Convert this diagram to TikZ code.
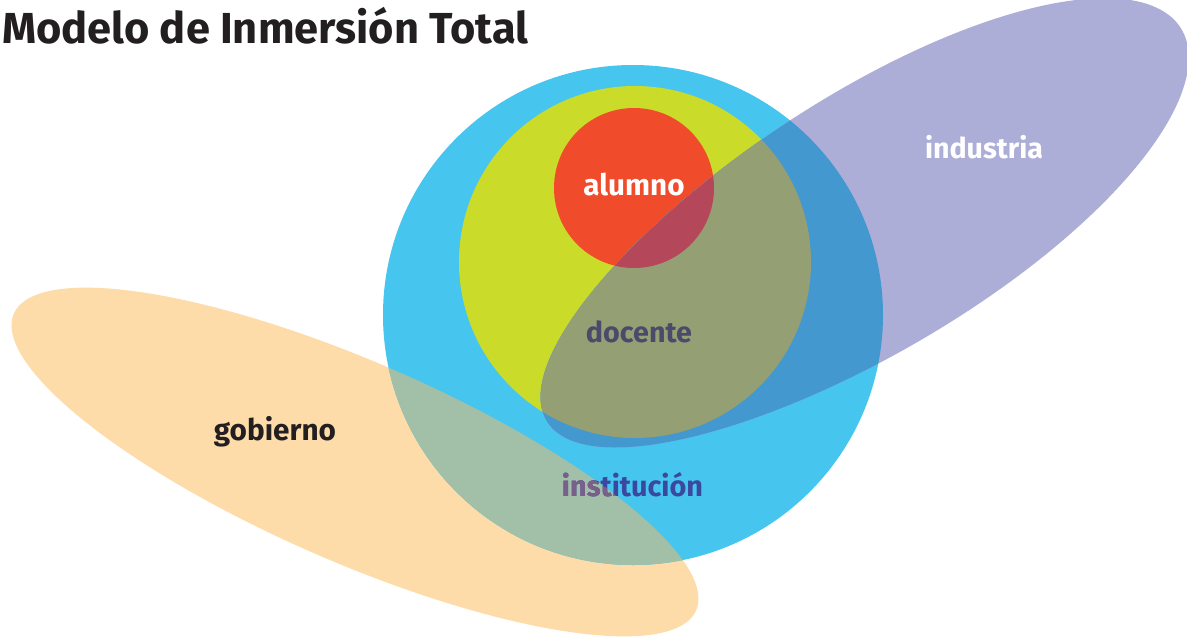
\documentclass[tikz,border=0pt]{standalone}
\usepackage{fontspec}
\setmainfont{Fira Sans}
\usepackage{graphicx}
\definecolor{cBlue}{HTML}{46C5EE}
\definecolor{cYellow}{HTML}{CADB2A}
\definecolor{cRed}{HTML}{F04B2B}
\definecolor{cPurple}{HTML}{ADAED8}
\definecolor{cOrange}{HTML}{FDDCA9}
\definecolor{cPB}{HTML}{4298CF}
\definecolor{cPY}{HTML}{949F74}
\definecolor{cPR}{HTML}{B4485A}
\definecolor{cOB}{HTML}{A2BFA7}
\definecolor{cInk}{HTML}{231F20}
\definecolor{cDoc}{HTML}{4A4A6B}
\definecolor{cInstA}{HTML}{3A489F}
\definecolor{cInstB}{HTML}{7A5E8C}
% gobierno: ellipse, centre (355,462), a=372, b=100, tilted 23.5 deg
\newcommand{\orangeshape}{plot[domain=0:360, samples=240, variable=\tt] ({355 + 372*cos(\tt)*0.9171 - 100*sin(\tt)*0.3987}, {462 + 372*cos(\tt)*0.3987 + 100*sin(\tt)*0.9171}) -- cycle}
% industria: egg, centre (864,225), a=373, b=128, tilted 31.8 deg
\newcommand{\purpleshape}{plot[domain=0:360, samples=240, variable=\tt] ({864 + 373*cos(\tt)*0.8499 + (128+6*cos(\tt))*sin(\tt)*0.5270}, {225 - 373*cos(\tt)*0.5270 + (128+6*cos(\tt))*sin(\tt)*0.8499}) -- cycle}
\newcommand{\blueshape}{(633,315) circle[radius=250pt]}
\newcommand{\yellowshape}{(635,262) circle[radius=176pt]}
\newcommand{\redshape}{(634,188) circle[radius=80pt]}
\tikzset{
  lbl/.style={anchor=base, inner sep=0pt, font=\bfseries},
}
\begin{document}
\begin{tikzpicture}[x=1pt,y=-1pt]
\useasboundingbox (0,0) rectangle (1187,637);
\fill[white] (0,0) rectangle (1187,637);
% base shapes
\fill[cOrange] \orangeshape;
\fill[cBlue] \blueshape;
\fill[cYellow] \yellowshape;
\fill[cRed] \redshape;
\fill[cPurple] \purpleshape;
% overlaps with industria
\begin{scope}
  \clip \purpleshape;
  \fill[cPB] \blueshape;
  \fill[cPY] \yellowshape;
  \fill[cPR] \redshape;
\end{scope}
% overlap with gobierno
\begin{scope}
  \clip \orangeshape;
  \fill[cOB] \blueshape;
\end{scope}
% labels
\node[lbl, anchor=base west, text=cInk] (title) at (2,43) {\resizebox{526pt}{!}{\bfseries Modelo de Inmersión Total}};
\node[lbl, text=white] (alumno) at (634,195) {\resizebox{101pt}{!}{\bfseries alumno}};
\node[lbl, text=cDoc] (docente) at (639,342) {\resizebox{106pt}{!}{\bfseries docente}};
\node[lbl, text=white] (industria) at (984,158) {\resizebox{118pt}{!}{\bfseries industria}};
\node[lbl, text=cInk] (gobierno) at (275,440) {\resizebox{122pt}{!}{\bfseries gobierno}};
\node[lbl, text=cInstA] (institucion) at (632.5,496) {\resizebox{141pt}{!}{\bfseries institución}};
\begin{scope}
  \clip \orangeshape;
  \node[lbl, text=cInstB] (institucionB) at (632.5,496) {\resizebox{141pt}{!}{\bfseries institución}};
\end{scope}
\end{tikzpicture}
\end{document}
